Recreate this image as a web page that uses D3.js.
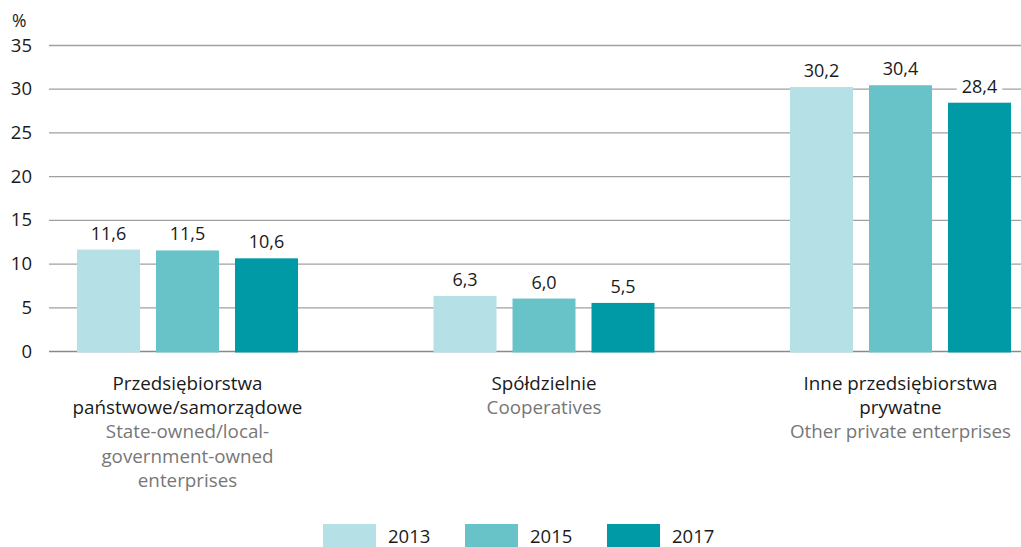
<!DOCTYPE html>
<html><head><meta charset="utf-8">
<script src="https://cdn.jsdelivr.net/npm/d3@7"></script>
<style>body{margin:0;background:#fff}svg{display:block}</style>
</head><body>
<svg id="c" width="1021" height="547"></svg>
<script>
const categoriesPL = [["Przedsiębiorstwa","państwowe/samorządowe"],["Spółdzielnie"],["Inne przedsiębiorstwa","prywatne"]];
const categoriesEN = [["State-owned/local-","government-owned","enterprises"],["Cooperatives"],["Other private enterprises"]];
const years = ["2013","2015","2017"];
const v2013 = [11.6, 6.3, 30.2];
const v2015 = [11.5, 6.0, 30.4];
const v2017 = [10.6, 5.5, 28.4];
const yTicks = [0,5,10,15,20,25,30,35];
const colors = ["#b5e0e5","#68c3c9","#009aa6"];

const series = [v2013, v2015, v2017];
const font = "'Open Sans', sans-serif";
const svg = d3.select("#c");
const y = d3.scaleLinear().domain([0,35]).range([351,45]);
const x = d3.scaleBand().domain(d3.range(3)).range([9.25,1078.75]).paddingInner(0).paddingOuter(0);
const xi = d3.scaleBand().domain(d3.range(3)).range([-118.5,118.5]).paddingInner(16/79).paddingOuter(8/79);

// grid
svg.append("g").selectAll("line").data(yTicks).join("line")
  .attr("x1",49).attr("x2",1021).attr("y1",d=>y(d)+0.5).attr("y2",d=>y(d)+0.5)
  .attr("stroke",d=>d===0?"#8a8a8a":"#a0a0a0").attr("stroke-width",d=>d===0?1.6:1.3);
svg.append("g").selectAll("text").data(yTicks).join("text")
  .attr("x",32).attr("y",d=>y(d)+6.5).attr("text-anchor","end")
  .attr("font-family",font).attr("font-size",18.5).attr("fill","#1a1a1a").text(d=>d);
svg.append("text").attr("x",12).attr("y",27).attr("font-family",font).attr("font-size",17.5).attr("fill","#1a1a1a").text("%");

// bars
const g = svg.append("g");
series.forEach((s,si)=>{
  s.forEach((v,ci)=>{
    const cx = x(ci)+x.bandwidth()/2;
    const bx = cx + xi(si);
    g.append("rect").attr("x",bx).attr("y",y(v)).attr("width",xi.bandwidth()).attr("height",y(0)-y(v)+1.5).attr("fill",colors[si]);
    const lbl = d3.format(".1f")(v).replace(".",",");
    const tx = bx + xi.bandwidth()/2;
    const t = g.append("text").attr("x",tx).attr("y",y(v)-10).attr("text-anchor","middle")
      .attr("font-family",font).attr("font-size",18).attr("fill","#1a1a1a").text(lbl);
    const bb = t.node().getBBox();
    g.insert("rect", () => t.node()).attr("x",bb.x-5).attr("y",bb.y+2).attr("width",bb.width+10).attr("height",bb.height-4).attr("fill","#fff");
  });
});

// category labels
categoriesPL.forEach((lines,ci)=>{
  const cx = x(ci)+x.bandwidth()/2;
  const all = lines.map(l=>({t:l,c:"#1a1a1a"})).concat(categoriesEN[ci].map(l=>({t:l,c:"#777777"})));
  all.forEach((l,li)=>{
    svg.append("text").attr("x",cx).attr("y",389.5+li*24.4).attr("text-anchor","middle")
      .attr("font-family",font).attr("font-size",18.8).attr("fill",l.c).text(l.t);
  });
});

// legend
years.forEach((yr,i)=>{
  const lx = 323 + i*142;
  svg.append("rect").attr("x",lx).attr("y",524).attr("width",53).attr("height",23).attr("fill",colors[i]);
  svg.append("text").attr("x",lx+65).attr("y",542.5).attr("font-family",font).attr("font-size",18.5).attr("fill","#1a1a1a").text(yr);
});
</script>
</body></html>
